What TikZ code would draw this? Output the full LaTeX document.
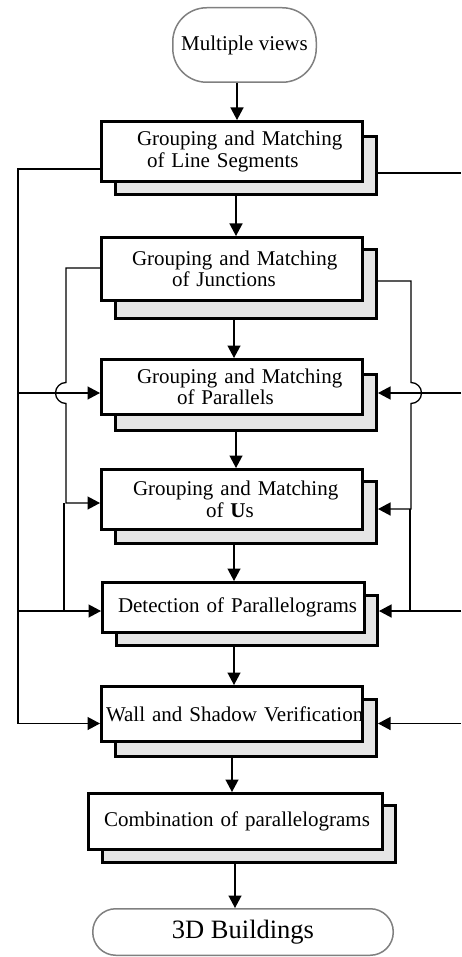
\documentclass[tikz,border=0pt]{standalone}
\usepackage{fontspec}
\setmainfont{Liberation Serif}
\usetikzlibrary{arrows.meta}
\definecolor{shadowgray}{RGB}{229,229,229}
\definecolor{termgray}{RGB}{128,128,128}
\begin{document}
\begin{tikzpicture}[x=1pt,y=-1pt,
  every node/.style={font=\fontsize{21pt}{21.5pt}\selectfont},
  mainbox/.style={draw, line width=3pt, fill=white, inner sep=0pt, minimum width=261pt, text width=261pt, align=left},
  shadowbox/.style={draw, line width=3pt, fill=shadowgray, inner sep=0pt, minimum width=261pt},
  terminal/.style={draw=termgray, line width=1.5pt, inner sep=0pt, align=center},
  conn/.style={line width=1.3pt},
  arr/.style={conn, -{Triangle[length=12.5pt,width=13pt]}}
]
\useasboundingbox (0,0) rectangle (461,957);

% columns and rows
\coordinate (OL) at (18,0);
\coordinate (IL) at (66,0);
\coordinate (ILb) at (64,0);
\coordinate (IR) at (411,0);
\coordinate (IRb) at (410,0);
\coordinate (RE) at (461,0);
\coordinate (cMV) at (237,0);
\coordinate (c1) at (236,0);
\coordinate (c2) at (234,0);
\coordinate (c3) at (236,0);
\coordinate (c4) at (234,0);
\coordinate (c5) at (234,0);
\coordinate (c6) at (232,0);
\coordinate (c7) at (235,0);
\coordinate (yA) at (0,169);
\coordinate (yAr) at (0,173);
\coordinate (yB) at (0,268);
\coordinate (yBr) at (0,281);
\coordinate (y3) at (0,393);
\coordinate (hT) at (0,382.5);
\coordinate (y4L) at (0,503);
\coordinate (y4R) at (0,509);
\coordinate (y5) at (0,611);
\coordinate (y6) at (0,723.5);

% terminals
\node[terminal, minimum width=143.5pt, minimum height=74.5pt, rounded corners=34pt] (t1) at (244.5,45) {Multiple views};
\node[terminal, minimum width=300.5pt, minimum height=46.5pt, rounded corners=23pt, font=\fontsize{26.5pt}{28pt}\selectfont] (t2) at (243,932) {3D Buildings};

% shadows
\node[shadowbox, minimum height=58pt] (s1) at (246,165.5) {};
\node[shadowbox, minimum height=69pt] (s2) at (246,284) {};
\node[shadowbox, minimum height=56pt] (s3) at (246,402.5) {};
\node[shadowbox, minimum height=62pt] (s4) at (246,512.5) {};
\node[shadowbox, minimum height=50pt] (s5) at (247,620.5) {};
\node[shadowbox, minimum height=57pt] (s6) at (246,728) {};
\node[shadowbox, minimum height=57pt, minimum width=293pt] (s7) at (249,834) {};

% main boxes
\node[mainbox, minimum height=60pt] (b1) at (232,151.5)
  {\mbox{\hspace*{35.5pt}Grouping and Matching}\\\mbox{\hspace*{45.5pt}of Line Segments}};
\node[mainbox, minimum height=63pt] (b2) at (232,269)
  {\mbox{\hspace*{30.5pt}Grouping and Matching}\\\mbox{\hspace*{70.5pt}of Junctions}};
\node[mainbox, minimum height=55pt] (b3) at (232,387)
  {\mbox{\hspace*{35.5pt}Grouping and Matching}\\\mbox{\hspace*{75.5pt}of Parallels}};
\node[mainbox, minimum height=60pt] (b4) at (232,499.5)
  {\mbox{\hspace*{31.5pt}Grouping and Matching}\\\mbox{\hspace*{104.5pt}of \textbf{U}s}};
\node[mainbox, minimum height=50pt, minimum width=262pt, text width=262pt] (b5) at (233.5,607.5)
  {\mbox{\hspace*{15.5pt}Detection of Parallelograms}};
\node[mainbox, minimum height=55pt] (b6) at (232,714)
  {\mbox{\hspace*{4.5pt}Wall and Shadow Verification}};
\node[mainbox, minimum height=56pt, minimum width=294pt, text width=294pt] (b7) at (235.5,821.5)
  {\mbox{\hspace*{15.5pt}Combination of parallelograms}};

% main flow
\draw[arr] (t1.south -| cMV) -- (b1.north -| cMV);
\draw[arr] (s1.south -| c1) -- (b2.north -| c1);
\draw[arr] (s2.south -| c2) -- (b3.north -| c2);
\draw[arr] (s3.south -| c3) -- (b4.north -| c3);
\draw[arr] (s4.south -| c4) -- (b5.north -| c4);
\draw[arr] (s5.south -| c5) -- (b6.north -| c5);
\draw[arr] (s6.south -| c6) -- (b7.north -| c6);
\draw[arr] (s7.south -| c7) -- (t2.north -| c7);

% left side
\draw[arr] (b1.west |- yA) -| (OL |- y6) -- (b6.west |- y6);
\draw[arr] (OL |- y3) -- (b3.west |- y3);
\draw[arr] (OL |- y5) -- (b5.west |- y5);
\draw[arr] (b2.west |- yB) -| (IL |- hT) arc[start angle=90, end angle=270, radius=10.5pt] -- (IL |- y4L) -- (b4.west |- y4L);
\draw[conn] (ILb |- y4L) -- (ILb |- y5);

% right side
\draw[conn] (s1.east |- yAr) -- (RE |- yAr);
\draw[arr] (s2.east |- yBr) -| (IR |- hT) arc[start angle=90, end angle=-90, radius=10.5pt] -- (IR |- y4R) -- (s4.east |- y4R);
\draw[conn] (IRb |- y4R) -- (IRb |- y5);
\draw[arr] (RE |- y3) -- (s3.east |- y3);
\draw[arr] (RE |- y5) -- (s5.east |- y5);
\draw[arr] (RE |- y6) -- (s6.east |- y6);
\end{tikzpicture}
\end{document}
